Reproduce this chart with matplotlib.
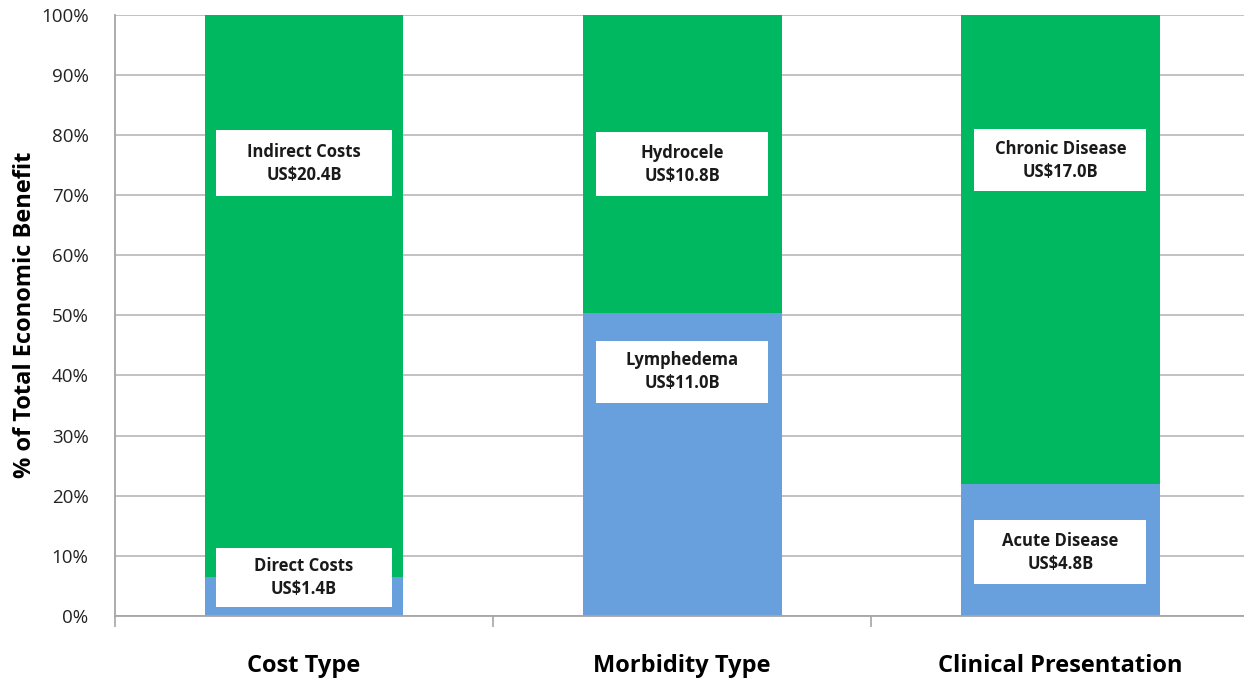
import matplotlib
matplotlib.use("Agg")
import matplotlib.pyplot as plt
from matplotlib.patches import Rectangle
from matplotlib.ticker import PercentFormatter, FixedLocator

categories = ["Cost Type", "Morbidity Type", "Clinical Presentation"]
lower_names = ["Direct Costs", "Lymphedema", "Acute Disease"]
upper_names = ["Indirect Costs", "Hydrocele", "Chronic Disease"]
lower_vals = [1.4, 11.0, 4.8]   # US$ billions
upper_vals = [20.4, 10.8, 17.0]

lower_pct = [100 * l / (l + u) for l, u in zip(lower_vals, upper_vals)]
upper_pct = [100 * u / (l + u) for l, u in zip(lower_vals, upper_vals)]

# label box centres (in % units) - layout
lower_box_y = [6.4, 40.6, 10.6]
upper_box_y = [75.3, 75.1, 75.8]
lower_box_h = [9.8, 10.3, 10.6]
upper_box_h = [11.0, 10.6, 10.2]
box_w = [0.465, 0.455, 0.455]

plt.rcParams['font.family'] = ['Open Sans', 'DejaVu Sans']

fig = plt.figure(figsize=(12.44, 6.78), dpi=100)
ax = fig.add_axes([0.0924, 0.0914, 0.912, 0.8872])

green = "#00B860"
blue = "#67A0DC"
x = list(range(len(categories)))
bw = 0.526
ax.bar(x, lower_pct, width=bw, color=blue, zorder=2)
ax.bar(x, upper_pct, width=bw, bottom=lower_pct, color=green, zorder=2)

for i in x:
    for name, val, yc, h in ((lower_names[i], lower_vals[i], lower_box_y[i], lower_box_h[i]),
                             (upper_names[i], upper_vals[i], upper_box_y[i], upper_box_h[i])):
        w = box_w[i]
        ax.add_patch(Rectangle((i - w / 2, yc - h / 2), w, h, facecolor="white",
                               edgecolor="none", zorder=3))
        ax.text(i, yc, f"{name}\nUS${val:.1f}B", ha="center", va="center",
                fontsize=12, fontweight="bold", color="#1a1a1a", linespacing=1.35, zorder=4)

ax.set_xlim(-0.5, 2.5)
ax.set_ylim(0, 100)
ax.set_yticks(range(0, 101, 10))
ax.yaxis.set_major_formatter(PercentFormatter(decimals=0))
ax.tick_params(axis='y', length=0, pad=19, labelsize=13.5, labelcolor="#222222")
ax.grid(axis='y', color="#BDBDBD", linewidth=1.3, zorder=0)
ax.set_axisbelow(True)

ax.set_xticks(x)
ax.set_xticklabels(categories, fontsize=17, fontweight="bold")
ax.tick_params(axis='x', which='major', length=0, pad=27)
ax.xaxis.set_minor_locator(FixedLocator([-0.5, 0.5, 1.5, 2.5]))
ax.tick_params(axis='x', which='minor', length=8, width=1.2, color="#A6A6A6")

for s in ("top", "right"):
    ax.spines[s].set_visible(False)
for s in ("left", "bottom"):
    ax.spines[s].set_color("#A6A6A6")
    ax.spines[s].set_linewidth(1.3)

ax.set_ylabel("% of Total Economic Benefit", fontsize=17, fontweight="bold", labelpad=3)

fig.savefig("out.png", dpi=100)
